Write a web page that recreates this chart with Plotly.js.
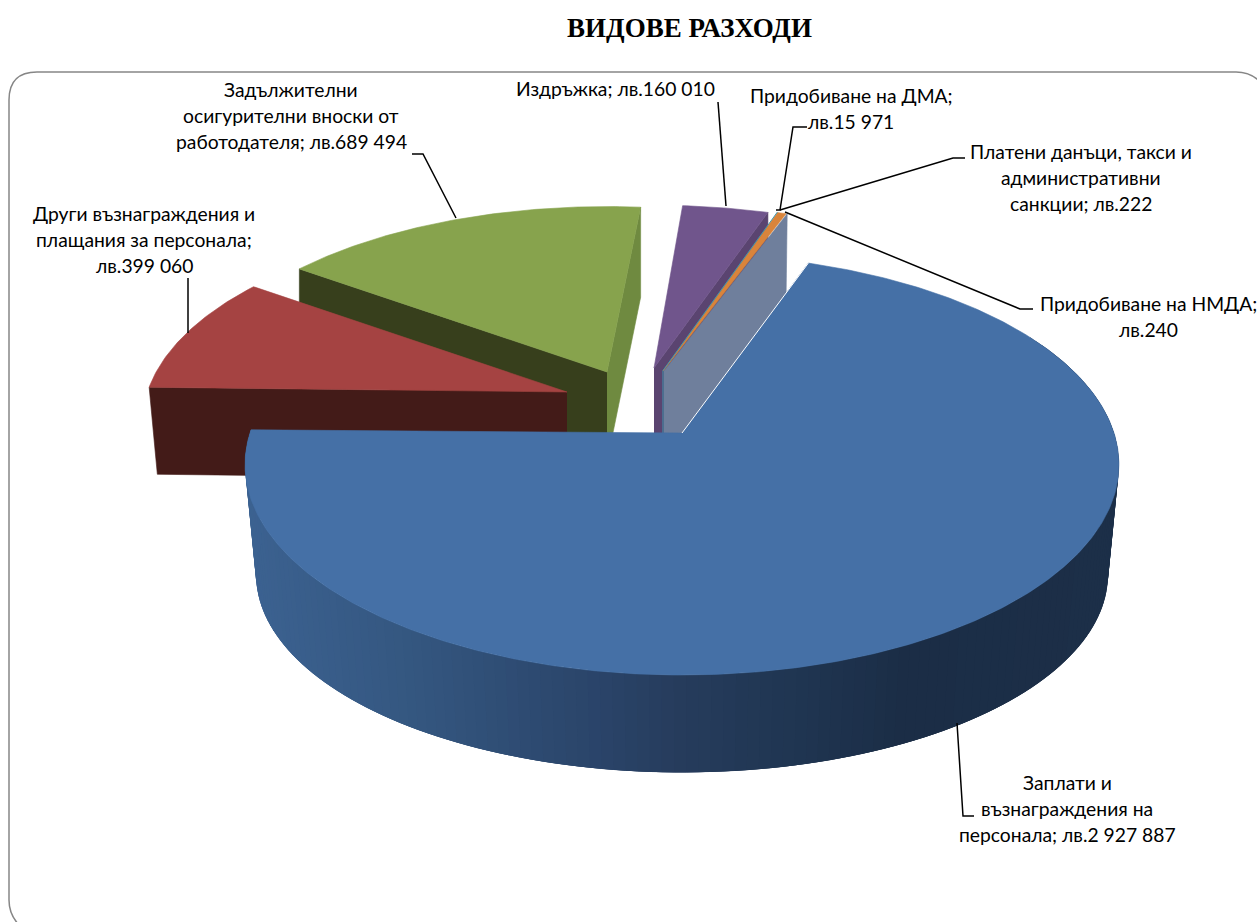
<!DOCTYPE html>
<html>
<head>
<meta charset="utf-8">
<script src="https://cdn.plot.ly/plotly-3.0.1.min.js"></script>
<style>html,body{margin:0;padding:0;background:#fff}#chart{width:1257px;height:922px}</style>
</head>
<body>
<div id="chart"></div>
<script>
// ---- data ----
var categories = ['Заплати и възнаграждения на персонала',
  'Други възнаграждения и плащания за персонала',
  'Задължителни осигурителни вноски от работодателя',
  'Издръжка',
  'Платени данъци, такси и административни санкции',
  'Придобиване на ДМА',
  'Придобиване на НМДА'];
var values = [2927887, 399060, 689494, 160010, 222, 15971, 240];
var titleText = 'ВИДОВЕ РАЗХОДИ';
var labelLines = [
  ['Заплати и', 'възнаграждения на', 'персонала; лв.2 927 887'],
  ['Други възнаграждения и', 'плащания за персонала;', 'лв.399 060'],
  ['Задължителни', 'осигурителни вноски от', 'работодателя; лв.689 494'],
  ['Издръжка; лв.160 010'],
  ['Платени данъци, такси и', 'административни', 'санкции; лв.222'],
  ['Придобиване на ДМА;', 'лв.15 971'],
  ['Придобиване на НМДА;', 'лв.240']
];

// ---- layout / style ----
var labelPos = [[1067,782],[144,213],[291,89],[615.5,88],[1081,151],[851,95],[1148,303]];
var lineGap = 26;
var leaders = [
  [[957,723],[963,816],[974,816]],
  [[188,278],[188,333]],
  [[412,154],[423,154],[456,218]],
  [[718,102],[726,206]],
  [[965,158],[953,158],[780,210]],
  [[807,127],[793,127],[780,210],[776,210]],
  [[1033,309],[1020,309],[785,212]]
];
var startAngle = 19.5, RX = 432, RY = 205.7, K = 0.15;
var colors = {
  blue:'#4570A6', red:'#A54342', redWall:'#431B18', green:'#87A34D', greenDark:'#373F1C',
  greenWall:'#6F8A40', purple:'#70558C', purpleWall:'#5A4470', teal:'#3F97AE',
  orange:'#D9843B', grey:'#6F7F9C'
};
var wallStops = [[250,[60,98,145]],[400,[53,88,130]],[600,[42,68,105]],[680,[38,60,92]],[800,[31,53,81]],[900,[27,45,70]],[1120,[28,47,72]]];

// placement of each (partly exploded) slice
var place = [
  {ax:682, ay:433, sx:1,    sy:1,    bx:682, by:545, bsx:.975, bsy:.94, rot:0},
  {ax:567, ay:392, sx:.971, sy:.955, bx:567, by:479, bsx:.952, bsy:.95, rot:0.5},
  {ax:607, ay:372, sx:.96,  sy:.925, bx:607, by:462, bsx:.96,  bsy:.925, rot:1},
  {ax:654, ay:368, sx:.96,  sy:.91,  bx:654, by:460, bsx:.96,  bsy:.91, rot:0.2},
  {ax:663, ay:370.5, sx:.985, sy:.925, bx:663, by:460, bsx:.985, bsy:.925, rot:-0.2},
  {ax:663, ay:371, sx:.985, sy:.925, bx:663, by:460, bsx:.985, bsy:.925, rot:-0.2},
  {ax:664, ay:371, sx:.985, sy:.925, bx:664, by:460, bsx:.975, bsy:.90,  rot:-0.2}
];

// ---- geometry from values ----
var total = values.reduce(function(a,b){return a+b;},0);
var spans = [], acc = startAngle;
values.forEach(function(v){ var d = v/total*360; spans.push([acc, acc+d]); acc += d; });

function topPt(i, deg){
  var p = place[i], t = (deg+p.rot)*Math.PI/180, u = Math.sin(t), v = Math.cos(t), s = 1/(1+K*v);
  return [p.ax + RX*u*s*p.sx, p.ay - RY*v*s*p.sy];
}
function botPt(i, deg){
  var p = place[i], t = (deg+p.rot)*Math.PI/180, u = Math.sin(t), v = Math.cos(t), s = 1/(1+K*v);
  return [p.bx + RX*u*s*p.bsx, p.by - RY*v*s*p.bsy];
}
function poly(pts, color){
  return {type:'scatter', mode:'lines', x:pts.map(function(q){return q[0];}), y:pts.map(function(q){return q[1];}),
    fill:'toself', fillcolor:color, line:{color:color, width:0.6}, hoverinfo:'skip', showlegend:false};
}
function topFace(i, color){
  var pts = [[place[i].ax, place[i].ay]], a = spans[i][0], b = spans[i][1], n = Math.max(2, Math.ceil((b-a)*1.5));
  for (var j=0;j<=n;j++) pts.push(topPt(i, a+(b-a)*j/n));
  pts.push([place[i].ax, place[i].ay]);
  return poly(pts, color);
}
function cutWall(i, deg, color){
  var p = place[i];
  return poly([[p.ax,p.ay], topPt(i,deg), botPt(i,deg), [p.bx,p.by]], color);
}
function wallColor(x){
  var s = wallStops;
  if (x <= s[0][0]) return 'rgb('+s[0][1].join(',')+')';
  for (var i=1;i<s.length;i++){
    if (x <= s[i][0]){
      var f = (x-s[i-1][0])/(s[i][0]-s[i-1][0]), c = s[i-1][1].map(function(q,k){return Math.round(q+(s[i][1][k]-q)*f);});
      return 'rgb('+c.join(',')+')';
    }
  }
  return 'rgb('+s[s.length-1][1].join(',')+')';
}

var traces = [];
// green
traces.push(cutWall(2, spans[2][0], colors.greenDark));
traces.push(cutWall(2, spans[2][1], colors.greenWall));
traces.push(topFace(2, colors.green));
// red
traces.push(cutWall(1, spans[1][0], colors.redWall));
traces.push(topFace(1, colors.red));
// purple
traces.push(cutWall(3, spans[3][1], colors.purpleWall));
traces.push(topFace(3, colors.purple));
// far small slices
traces.push(cutWall(6, spans[6][1], colors.grey));
traces.push(topFace(5, colors.orange));
traces.push(Object.assign(poly([[place[4].ax,place[4].ay], topPt(4, spans[4][0])], colors.teal), {fill:'none', line:{color:colors.teal, width:1}}));
traces.push(Object.assign(poly([[place[4].ax,place[4].ay], [place[4].ax,433]], colors.teal), {fill:'none', line:{color:colors.teal, width:1}}));
// blue wall as many thin facets: each facet overlaps the next so no seams show
var wa = 60, wb = spans[0][1], N = 150;
for (var j=0;j<N;j++){
  var d0 = wa+(wb-wa)*j/N, d1 = Math.min(wb, wa+(wb-wa)*(j+3)/N), dm = wa+(wb-wa)*(j+1)/N;
  var t0 = topPt(0,d0), t1 = topPt(0,d1), b0 = botPt(0,d0), b1 = botPt(0,d1);
  var xm = botPt(0,(d0+dm)/2)[0];
  var f = poly([t0,t1,b1,b0], wallColor(xm));
  f.line = {color:'rgba(0,0,0,0)', width:0};
  traces.push(f);
}
// blue top
traces.push(topFace(0, colors.blue));
traces.push(Object.assign(poly([[place[0].ax,place[0].ay], topPt(0, spans[0][0])], '#ffffff'), {fill:'none', line:{color:'#ffffff', width:1}}));

// texts
var annotations = [];
labelLines.forEach(function(lines,i){
  lines.forEach(function(tx,k){
    annotations.push({x:labelPos[i][0], y:labelPos[i][1]+k*lineGap, xref:'x', yref:'y', text:tx, showarrow:false,
      xanchor:'center', yanchor:'middle', font:{family:'Lato, Carlito, sans-serif', size:19.3, color:'#000'}});
  });
});

// frame and leader lines
var shapes = [{type:'path', xref:'x', yref:'y', layer:'below',
  path:'M 20 926 Q 9 915 9 900 L 9 100 Q 9 72 37 72 L 1236 72 Q 1252 72 1262 84', line:{color:'#868686', width:1.5}, fillcolor:'rgba(0,0,0,0)'}];
leaders.forEach(function(l){
  shapes.push({type:'path', xref:'x', yref:'y', layer:'above',
    path:l.map(function(q,i){return (i?'L ':'M ')+q[0]+' '+q[1];}).join(' '), line:{color:'#000', width:1.5}});
});

Plotly.newPlot('chart', traces, {
  width:1257, height:922, margin:{l:0,r:0,t:0,b:0}, paper_bgcolor:'#fff', plot_bgcolor:'#fff', showlegend:false,
  title:{text:'<b>'+titleText+'</b>', x:689.5/1257, xanchor:'center', y:1-28/922, yanchor:'middle',
    font:{family:'Liberation Serif, Times New Roman, serif', size:27, color:'#000'}},
  xaxis:{range:[0,1257], visible:false, fixedrange:true},
  yaxis:{range:[922,0], visible:false, fixedrange:true},
  annotations:annotations, shapes:shapes
}, {displayModeBar:false, staticPlot:true});
</script>
</body>
</html>
